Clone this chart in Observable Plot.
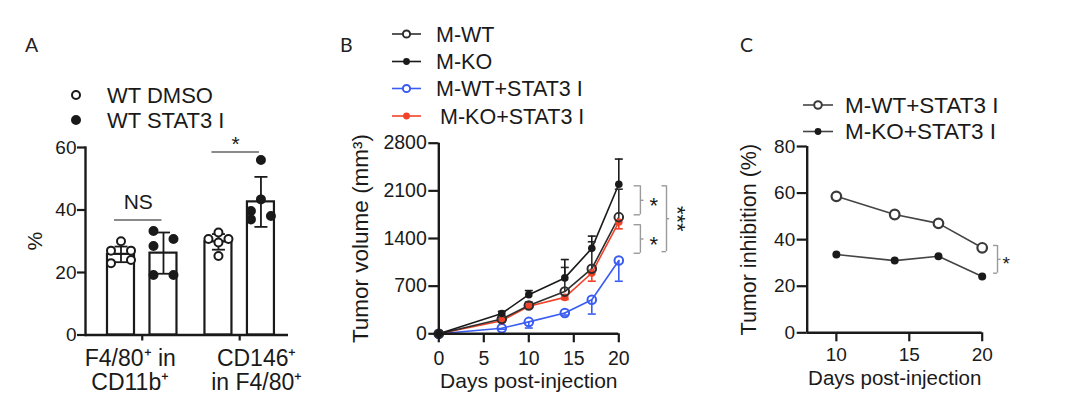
<!DOCTYPE html>
<html><head><meta charset="utf-8">
<script src="https://cdn.jsdelivr.net/npm/d3@7"></script>
<script src="https://cdn.jsdelivr.net/npm/@observablehq/plot@0.6"></script>
<style>
html,body{margin:0;padding:0;background:#fff;}
#root{position:relative;width:1080px;height:413px;overflow:hidden;font-family:"Liberation Sans",Arial,sans-serif;}
#root > .panel{position:absolute;top:0;}
#root > svg.overlay{position:absolute;left:0;top:0;pointer-events:none;}
</style></head><body><div id="root"></div>
<script>
// ---------------- Panel A data ----------------
const groupsA = ["F4/80", "CD146"];
const groupLabelsA = ["F4/80\u207A in\nCD11b\u207A", "CD146\u207A\nin F4/80\u207A"];
const conditionsA = ["WT DMSO", "WT STAT3 I"];
const meanDMSO = [25.8, 29.8];
const meanSTAT3 = [26.2, 42.6];
const sdDMSO = [2.5, 2.5];
const sdSTAT3 = [6.6, 8.0];
const ptsF480DMSO = [30, 27, 27, 23, 24];
const ptsF480STAT3 = [33.3, 30.7, 28.5, 19.2, 19.2];
const ptsCD146DMSO = [30.7, 32.8, 30.7, 29.6, 25.3];
const ptsCD146STAT3 = [56, 43.4, 39.7, 37, 38.1];
// scatter column of each point (-1 left, 0 centre, 1 right)
const colF480DMSO = [0, -1, 1, -1, 1];
const colF480STAT3 = [-1, 1, -1, -1, 1];
const colCD146DMSO = [-1, 0, 1, 0, 0];
const colCD146STAT3 = [0, 0, -1, -1, 1];
const sigA = [
  {group: "F4/80", line: 36.8, text: 40.2, label: "NS"},
  {group: "CD146", line: 58.6, text: 58.8, label: "*"}
];

// ---------------- Panel B data ----------------
const seriesB = ["M-WT", "M-KO", "M-WT+STAT3 I", "M-KO+STAT3 I"];
const daysB = [0, 7, 10, 14, 17, 20];
const volMWT = [0, 217, 415, 620, 956, 1714];
const volMKO = [0, 299, 575, 821, 1255, 2197];
const volMWTi = [0, 82, 175, 305, 500, 1077];
const volMKOi = [0, 193, 405, 535, 893, 1642];
const semMWT = [0, 20, 50, 355, 396, 410];
const semMKO = [0, 30, 60, 270, 180, 370];
const semMWTi = [0, 15, 90, 30, 210, 305];
const semMKOi = [0, 20, 30, 30, 120, 100];
const ticksBx = [0, 5, 10, 15, 20];
const ticksBy = [0, 700, 1400, 2100, 2800];
const sigB = [{top: 2174, bottom: 1748, label: "*"}, {top: 1603, bottom: 1183, label: "*"}];
const sigBOuter = [{top: 2174, bottom: 1207, label: "***"}];

// ---------------- Panel C data ----------------
const seriesC = ["M-WT+STAT3 I", "M-KO+STAT3 I"];
const daysC = [10, 14, 17, 20];
const inhibWTi = [58.6, 50.8, 47.0, 36.5];
const inhibKOi = [33.6, 31.0, 32.9, 24.2];
const ticksCx = [10, 15, 20];
const ticksCy = [0, 20, 40, 60, 80];
const sigC = [{top: 37.5, bottom: 25.6, label: "*"}];

// ---------------- shared ----------------
const INK = "#1a1a1a";
const FONT = '"Liberation Sans", Arial, sans-serif';
const baseStyle = {fontFamily: FONT, fontSize: "18px", color: INK, background: "transparent", overflow: "visible"};
const capSym = {draw(ctx, size) { const w = Math.sqrt(size / Math.PI); ctx.moveTo(-w, 0); ctx.lineTo(w, 0); }};
const root = document.getElementById("root");
function place(svg, left) { svg.classList.add("panel"); svg.style.left = left + "px"; svg.style.position = "absolute"; root.appendChild(svg); }

// ================= Panel A =================
(function () {
  const W = 330, mL = 85, mR = 42;
  const padIn = 0.287, padOut = 0.185;
  const step = (W - mL - mR) / (groupsA.length - padIn + 2 * padOut);
  const bw = step * (1 - padIn);
  const barW = 27;
  const off = (bw - barW) / 2;
  const means = [meanDMSO, meanSTAT3], sds = [sdDMSO, sdSTAT3];
  const pts = [[ptsF480DMSO, ptsCD146DMSO], [ptsF480STAT3, ptsCD146STAT3]];
  const cols = [[colF480DMSO, colCD146DMSO], [colF480STAT3, colCD146STAT3]];
  const bars = [], points = [];
  conditionsA.forEach((c, ci) => groupsA.forEach((g, gi) => {
    bars.push({cond: c, group: g, mean: means[ci][gi], sd: sds[ci][gi]});
    pts[ci][gi].forEach((v, k) => points.push({cond: c, group: g, value: v, col: cols[ci][gi][k]}));
  }));
  const marks = [];
  conditionsA.forEach((c, ci) => {
    const sign = ci === 0 ? -1 : 1;
    const b = bars.filter(d => d.cond === c);
    marks.push(Plot.barY(b, {x: "group", y: "mean", fill: "white", stroke: INK, strokeWidth: 2.2,
      insetLeft: ci === 0 ? 0 : bw - barW, insetRight: ci === 0 ? bw - barW : 0}));
    marks.push(Plot.ruleX(b, {x: "group", y1: d => d.mean - d.sd, y2: d => d.mean + d.sd, dx: sign * off, stroke: INK, strokeWidth: 1.8}));
    marks.push(Plot.dot(b, {x: "group", y: d => d.mean + d.sd, dx: sign * off, symbol: capSym, r: 6.5, stroke: INK, strokeWidth: 1.8, fill: "none"}));
    marks.push(Plot.dot(b, {x: "group", y: d => d.mean - d.sd, dx: sign * off, symbol: capSym, r: 6.5, stroke: INK, strokeWidth: 1.8, fill: "none"}));
    [-1, 0, 1].forEach(col => {
      const p = points.filter(d => d.cond === c && d.col === col);
      marks.push(Plot.dot(p, {x: "group", y: "value", dx: sign * off + col * 10, r: 4,
        stroke: INK, strokeWidth: 2, fill: ci === 0 ? "white" : INK}));
    });
  });
  const labelShift = [-12, 17];
  const svg = Plot.plot({
    width: W, height: 413, marginLeft: mL, marginRight: mR, marginTop: 147, marginBottom: 78.5,
    style: baseStyle,
    x: {domain: groupsA, paddingInner: padIn, paddingOuter: padOut, align: 0.61, round: false},
    y: {domain: [0, 60]},
    marks: [
      ...marks,
      Plot.tickY(sigA, {x: "group", y: "line", insetLeft: 7, insetRight: 15, stroke: "#8a8a8a", strokeWidth: 2}),
      Plot.text(sigA, {x: "group", y: "text", text: "label", dx: -4, fontSize: 21, lineAnchor: "bottom", fill: INK}),
      Plot.ruleY([0], {stroke: INK, strokeWidth: 2.4}),
      Plot.frame({anchor: "left", stroke: INK, strokeWidth: 2.4}),
      Plot.axisY({ticks: [0, 20, 40, 60], tickSize: 8, tickPadding: 1, fontSize: 19, strokeWidth: 2.2, label: null}),
      Plot.axisX({tickSize: 6, strokeWidth: 2.2, label: null, tickFormat: () => ""}),
      ...groupsA.map((g, gi) => Plot.axisX({ticks: [g], tickSize: 0, tickPadding: 14, dx: labelShift[gi],
        fontSize: 23, lineHeight: 1.05, label: null, tickFormat: d => groupLabelsA[groupsA.indexOf(d)]})),
      Plot.text(["%"], {frameAnchor: "left", dx: -50, rotate: -90, fontSize: 21, textAnchor: "middle", lineAnchor: "middle", fill: INK})
    ]
  });
  place(svg, 0);
})();

// ================= Panel B =================
const stylesB = [
  {color: "#2e2e2e", open: true, dir: 1},
  {color: "#1a1a1a", open: false, dir: 1},
  {color: "#3a5cf2", open: true, dir: -1},
  {color: "#f2432a", open: false, dir: -1}
];
(function () {
  const vals = [volMWT, volMKO, volMWTi, volMKOi], errs = [semMWT, semMKO, semMWTi, semMKOi];
  const rows = [];
  seriesB.forEach((s, si) => daysB.forEach((d, i) => rows.push({series: s, day: d, value: vals[si][i], err: errs[si][i]})));
  const order = [2, 3, 0, 1];
  const marks = [];
  order.forEach(si => {
    const st = stylesB[si];
    const r = rows.filter(d => d.series === seriesB[si]);
    marks.push(Plot.line(r, {x: "day", y: "value", stroke: st.color, strokeWidth: 1.6}));
  });
  order.forEach(si => {
    const st = stylesB[si];
    const r = rows.filter(d => d.series === seriesB[si] && d.err > 0);
    const end = d => d.value + st.dir * d.err;
    marks.push(Plot.ruleX(r, {x: "day", y1: "value", y2: end, stroke: st.color, strokeWidth: 1.6}));
    marks.push(Plot.dot(r, {x: "day", y: end, symbol: capSym, r: 4, stroke: st.color, strokeWidth: 1.6, fill: "none"}));
  });
  order.forEach(si => {
    const st = stylesB[si];
    const r = rows.filter(d => d.series === seriesB[si]);
    marks.push(Plot.dot(r, st.open
      ? {x: "day", y: "value", r: 4.3, stroke: st.color, strokeWidth: 2, fill: "none"}
      : {x: "day", y: "value", r: 3.8, fill: st.color, stroke: "none"}));
  });
  const GR = "#9a9a9a";
  const mid = d => (d.top + d.bottom) / 2;
  const svg = Plot.plot({
    width: 380, height: 413, marginLeft: 108.3, marginRight: 91.7, marginTop: 142.7, marginBottom: 79.7,
    style: baseStyle,
    x: {domain: [0, 20]},
    y: {domain: [0, 2800]},
    marks: [
      ...marks,
      Plot.ruleX([0], {stroke: INK, strokeWidth: 2.4}),
      Plot.ruleY([0], {stroke: INK, strokeWidth: 2.4}),
      Plot.axisX({ticks: ticksBx, tickSize: 9, tickPadding: 8, fontSize: 19.5, strokeWidth: 2.2, label: null, tickFormat: d => String(d)}),
      Plot.axisY({ticks: ticksBy, tickSize: 10, tickPadding: 2, fontSize: 19.5, strokeWidth: 2.2, label: null, tickFormat: d => String(d)}),
      // inner brackets
      Plot.ruleY(sigB, {y: "top", x1: 21.7, x2: 22.4, stroke: GR, strokeWidth: 1.4}),
      Plot.ruleY(sigB, {y: "bottom", x1: 21.7, x2: 22.4, stroke: GR, strokeWidth: 1.4}),
      Plot.ruleX(sigB, {x: 22.4, y1: "top", y2: "bottom", stroke: GR, strokeWidth: 1.4}),
      Plot.ruleY(sigB, {y: mid, x1: 22.4, x2: 22.8, stroke: GR, strokeWidth: 1.4}),
      Plot.text(sigB, {x: 23.9, y: mid, text: "label", fontSize: 22, dy: 6, fill: INK}),
      // outer bracket
      Plot.ruleY(sigBOuter, {y: "top", x1: 24.8, x2: 25.3, stroke: GR, strokeWidth: 1.4}),
      Plot.ruleY(sigBOuter, {y: "bottom", x1: 24.8, x2: 25.3, stroke: GR, strokeWidth: 1.4}),
      Plot.ruleX(sigBOuter, {x: 25.3, y1: "top", y2: "bottom", stroke: GR, strokeWidth: 1.4}),
      Plot.ruleY(sigBOuter, {y: mid, x1: 25.3, x2: 25.65, stroke: GR, strokeWidth: 1.4}),
      Plot.text(sigBOuter, {x: 26.5, y: mid, text: "label", fontSize: 22, rotate: 90, textAnchor: "middle", fill: INK}),
      Plot.text(["Tumor volume (mm\u00B3)"], {frameAnchor: "left", dx: -78, rotate: -90, fontSize: 22.5, textAnchor: "middle", lineAnchor: "middle", fill: INK}),
      Plot.text(["Days post-injection"], {frameAnchor: "bottom", dy: 47, fontSize: 21, textAnchor: "middle", lineAnchor: "middle", fill: INK})
    ]
  });
  place(svg, 330);
})();

// ================= Panel C =================
const stylesC = [{color: "#3a3a3a", open: true}, {color: "#1a1a1a", open: false}];
(function () {
  const vals = [inhibWTi, inhibKOi];
  const rows = [];
  seriesC.forEach((s, si) => daysC.forEach((d, i) => rows.push({series: s, day: d, value: vals[si][i]})));
  const marks = [];
  seriesC.forEach((s, si) => {
    const r = rows.filter(d => d.series === s);
    marks.push(Plot.line(r, {x: "day", y: "value", stroke: "#444", strokeWidth: 1.6}));
  });
  seriesC.forEach((s, si) => {
    const st = stylesC[si];
    const r = rows.filter(d => d.series === s);
    marks.push(Plot.dot(r, st.open
      ? {x: "day", y: "value", r: 4.8, stroke: st.color, strokeWidth: 2.2, fill: "white"}
      : {x: "day", y: "value", r: 4, fill: st.color, stroke: "none"}));
  });
  const GR = "#9a9a9a";
  const mid = d => (d.top + d.bottom) / 2;
  const svg = Plot.plot({
    width: 370, height: 413, marginLeft: 96.7, marginRight: 98.3, marginTop: 146, marginBottom: 80.7,
    style: baseStyle,
    x: {domain: [8, 20]},
    y: {domain: [0, 80]},
    marks: [
      ...marks,
      Plot.ruleX([8], {stroke: INK, strokeWidth: 2.4}),
      Plot.ruleY([0], {stroke: INK, strokeWidth: 2.4}),
      Plot.axisX({ticks: ticksCx, tickSize: 9, tickPadding: 6, fontSize: 19, strokeWidth: 2.2, label: null}),
      Plot.axisY({ticks: ticksCy, tickSize: 10, tickPadding: 2, fontSize: 19, strokeWidth: 2.2, label: null}),
      Plot.ruleY(sigC, {y: "top", x1: 20.78, x2: 21.05, stroke: GR, strokeWidth: 1.4}),
      Plot.ruleY(sigC, {y: "bottom", x1: 20.78, x2: 21.05, stroke: GR, strokeWidth: 1.4}),
      Plot.ruleX(sigC, {x: 21.05, y1: "top", y2: "bottom", stroke: GR, strokeWidth: 1.4}),
      Plot.ruleY(sigC, {y: mid, x1: 21.05, x2: 21.3, stroke: GR, strokeWidth: 1.4}),
      Plot.text(sigC, {x: 21.65, y: mid, text: "label", fontSize: 19, dy: 5, fill: INK}),
      Plot.text(["Tumor inhibition (%)"], {frameAnchor: "left", dx: -58, rotate: -90, fontSize: 21.5, textAnchor: "middle", lineAnchor: "middle", fill: INK}),
      Plot.text(["Days post-injection"], {frameAnchor: "bottom", dy: 45.5, fontSize: 20.5, textAnchor: "middle", lineAnchor: "middle", fill: INK})
    ]
  });
  place(svg, 710);
})();

// ================= Overlay: panel letters and legends =================
(function () {
  const svg = d3.create("svg").attr("class", "overlay").attr("width", 1080).attr("height", 413)
    .style("font-family", FONT).style("fill", INK);
  const letters = [["A", 25, 52], ["B", 340, 52], ["C", 740, 52]];
  svg.selectAll("text.letter").data(letters).join("text").attr("class", "letter")
    .attr("x", d => d[1]).attr("y", d => d[2]).text(d => d[0])
    .style("font-family", "Lato, 'Open Sans', sans-serif").style("font-size", "19.5px").style("fill", "#222");
  // legend A
  const la = [{y: 95, open: true}, {y: 120, open: false}];
  la.forEach((d, i) => {
    svg.append("circle").attr("cx", 76).attr("cy", d.y).attr("r", 4)
      .attr("fill", d.open ? "white" : INK).attr("stroke", INK).attr("stroke-width", 2);
    svg.append("text").attr("x", 107).attr("y", d.y).attr("dy", "0.35em").style("font-size", "22px").text(conditionsA[i]);
  });
  // legend B
  const lbY = [34, 61.5, 88.5, 116];
  seriesB.forEach((s, i) => {
    const st = stylesB[i];
    svg.append("line").attr("x1", 392).attr("x2", 421).attr("y1", lbY[i]).attr("y2", lbY[i])
      .attr("stroke", st.color).attr("stroke-width", 1.6);
    svg.append("circle").attr("cx", 406.5).attr("cy", lbY[i]).attr("r", st.open ? 3.6 : 3.4)
      .attr("fill", st.open ? "white" : st.color).attr("stroke", st.color).attr("stroke-width", st.open ? 2 : 0);
    svg.append("text").attr("x", i === 3 ? 440 : 436).attr("y", lbY[i]).attr("dy", "0.35em")
      .style("font-size", "21.5px").text(s);
  });
  // legend C
  const lcY = [105, 131.5];
  seriesC.forEach((s, i) => {
    const st = stylesC[i];
    svg.append("line").attr("x1", 803).attr("x2", 833).attr("y1", lcY[i]).attr("y2", lcY[i])
      .attr("stroke", "#444").attr("stroke-width", 1.6);
    svg.append("circle").attr("cx", 818).attr("cy", lcY[i]).attr("r", st.open ? 3.8 : 3.4)
      .attr("fill", st.open ? "white" : st.color).attr("stroke", st.color).attr("stroke-width", st.open ? 2 : 0);
    svg.append("text").attr("x", 845).attr("y", lcY[i]).attr("dy", "0.35em")
      .style("font-size", "22.5px").text(s);
  });
  root.appendChild(svg.node());
})();
</script>
</body></html>
